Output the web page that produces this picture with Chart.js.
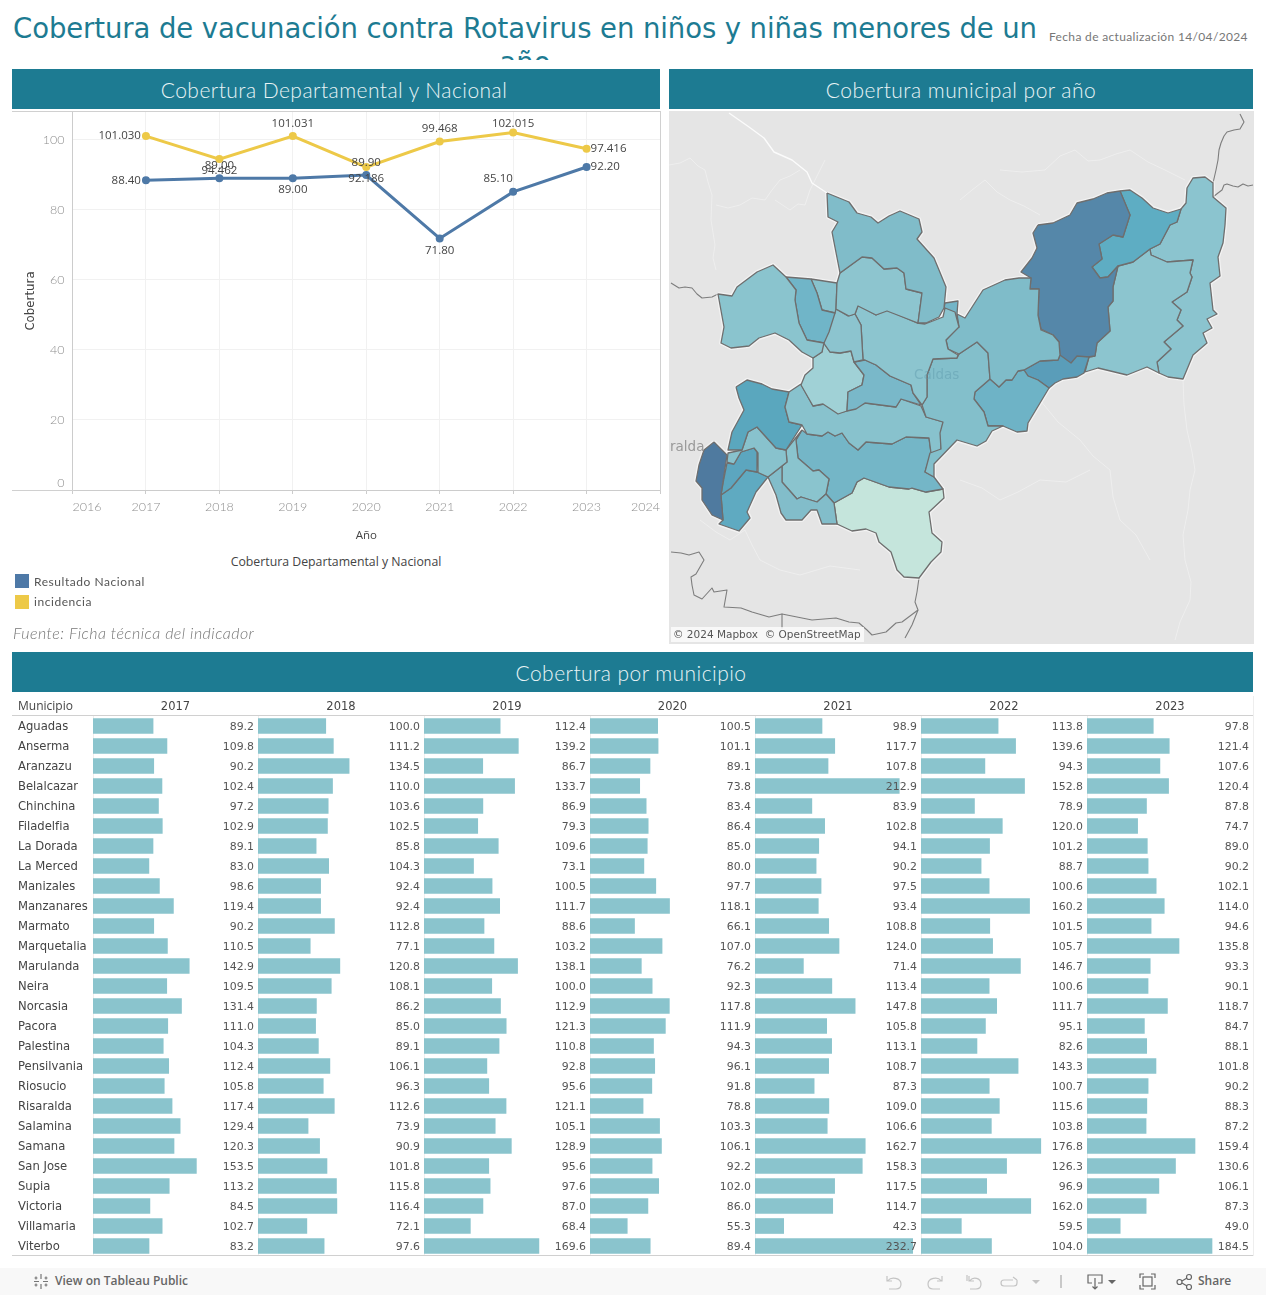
<!DOCTYPE html>
<html lang="es">
<head>
<meta charset="utf-8">
<title>Cobertura de vacunación contra Rotavirus</title>
<script src="https://cdn.jsdelivr.net/npm/chart.js@4"></script>
<style>
  html, body { margin: 0; padding: 0; background: #fff; }
  body { position: relative; width: 1266px; height: 1295px; overflow: hidden; font-family: "Open Sans", sans-serif; color: #555; }
  .abs { position: absolute; white-space: nowrap; }
  canvas { position: absolute; display: block; }
  .band { position: absolute; box-sizing: border-box; background: #1d7b92; color: #e9f4f6; height: 40px; text-align: center; font: 300 21px/41px Lato, sans-serif; letter-spacing: .45px; }
  .rule { position: absolute; background: #d0d0d0; }
  #title { left: 12px; top: 11px; width: 1026px; height: 49px; overflow: hidden; text-align: center; color: #1d7b92; font: 27.5px/34px "DejaVu Sans", sans-serif; letter-spacing: -.09px; }
  #updated { left: 1049px; top: 29px; font: 12px/16px Lato, sans-serif; letter-spacing: .34px; color: #777; }
  #source { left: 13px; top: 623px; font: italic 300 16px/20px Lato, sans-serif; letter-spacing: .45px; color: #777; }
  .legend-title { left: 12px; width: 648px; text-align: center; top: 554px; font: 12.3px/16px "Open Sans", sans-serif; color: #444; }
  .swatch { position: absolute; left: 15px; width: 14px; height: 14px; }
  .legend-item { left: 34px; font: 12px/16px Lato, sans-serif; letter-spacing: .55px; color: #555; }
  #map { left: 669px; top: 111px; width: 585px; height: 533px; background: #e5e5e5; overflow: hidden; }
  #mapcanvas { left: 0; top: 0; }
  .map-place { position: absolute; font: 13.5px/16px "DejaVu Sans", sans-serif; }
  #attribution { position: absolute; left: 2px; top: 516px; height: 15px; padding: 0 3px 0 2px; background: rgba(255,255,255,.72); font: 10.5px/15px "DejaVu Sans", sans-serif; color: #555; white-space: pre; }
  #municipio-head { left: 18px; top: 698px; font: 12px/16px "Open Sans", sans-serif; color: #444; }
  #toolbar { position: absolute; left: 0; top: 1268px; width: 1266px; height: 27px; background: #f8f8f8; }
  #toolbar .label { position: absolute; top: 5px; font: 600 12px/16px "Open Sans", sans-serif; color: #666; }
  #toolbar svg { position: absolute; left: 0; top: 0; }
</style>
</head>
<body>
<div id="title" class="abs">Cobertura de vacunación contra Rotavirus en niños y niñas menores de un<br>año</div>
<div id="updated" class="abs">Fecha de actualización 14/04/2024</div>

<div class="band" style="left:12px;top:69px;width:648px;padding-right:4px">Cobertura Departamental y Nacional</div>
<div class="band" style="left:669px;top:69px;width:584px">Cobertura municipal por año</div>
<div class="band" style="left:12px;top:652px;width:1241px;padding-right:3px">Cobertura por municipio</div>

<canvas id="lineChart" width="649" height="440" style="left:12px;top:110px"></canvas>
<div class="rule" style="left:12px;top:111px;width:649px;height:1px"></div>
<div class="rule" style="left:660px;top:111px;width:1px;height:380px"></div>
<div class="rule" style="left:12px;top:490px;width:62px;height:1px"></div>

<div class="abs legend-title">Cobertura Departamental y Nacional</div>
<div id="legend"></div>
<div id="source" class="abs">Fuente: Ficha técnica del indicador</div>

<div id="map" class="abs">
  <canvas id="mapcanvas" width="585" height="533"></canvas>
  <div class="map-place" style="left:1px;top:327px;color:#999">ralda</div>
  <div class="map-place" style="left:245px;top:255px;color:rgba(90,150,170,.42)">Caldas</div>
  <div id="attribution">© 2024 Mapbox  © OpenStreetMap</div>
</div>

<div id="municipio-head" class="abs">Municipio</div>
<div id="tables"></div>
<div class="rule" style="left:12px;top:715px;width:1241px;height:1px"></div>
<div class="rule" style="left:12px;top:1255px;width:1241px;height:1px"></div>
<div class="rule" style="left:1253px;top:696px;width:1px;height:560px;background:#eee"></div>

<div id="toolbar">
  <svg width="1266" height="27" fill="none" stroke-width="1.2">
    <g stroke="#777">
      <path d="M41 6v5M41 16v5M34 13.500h5M43 13.500h5M36 8.500v3M34.500 10h3M46 8.500v3M44.500 10h3M36 15.500v3M34.500 17h3M46 15.500v3M44.500 17h3"/>
    </g>
    <g stroke="#c4c4c4">
      <path d="M887 8v5h5M888 12.500c3-4 13-3 13 3.500 0 3-2 5-5 5h-7"/>
      <path d="M942 8v5h-5M941 12.500c-3-4-13-3-13 3.500 0 3 2 5 5 5h7"/>
      <path d="M967 7v6M969 8v5h5M970 12.500c3-4 11-3 11 3.500 0 3-2 5-5 5h-6"/>
      <path d="M1013 12h-9a3 3 0 0 0 0 6h10a3 3 0 0 0 3-3v-3M1013 9l4 3"/>
      <path d="M1061 7v13" stroke="#aaa"/>
    </g>
    <path d="M1032 12h8l-4 4z" fill="#c4c4c4"/>
    <g stroke="#666">
      <path d="M1092 15h-4V7h14v8h-4M1095 10v11M1092.500 18.500l2.500 2.500 2.500-2.500"/>
      <path d="M1140 10V6h4M1151 6h4v4M1155 17v4h-4M1144 21h-4v-4"/>
      <rect x="1143" y="9" width="9" height="9"/>
      <circle cx="1179.500" cy="14" r="2.500"/><circle cx="1189" cy="9" r="2.500"/><circle cx="1189" cy="19" r="2.500"/>
      <path d="M1182 13l5-3M1182 15l5 3"/>
    </g>
    <path d="M1108 12h8l-4 4z" fill="#666"/>
  </svg>
  <div class="label" style="left:55px">View on Tableau Public</div>
  <div class="label" style="left:1198px">Share</div>
</div>

<script>
// Line chart values
const years = [2017, 2018, 2019, 2020, 2021, 2022, 2023];
const seriesNames = ['Resultado Nacional', 'incidencia'];
const nacional = [88.40, 89.00, 89.00, 89.90, 71.80, 85.10, 92.20];
const incidencia = [101.030, 94.462, 101.031, 92.186, 99.468, 102.015, 97.416];
const nacionalSide = ['left', 'top', 'below', 'top', 'below', 'topleft', 'right'];
const incidenciaSide = ['left', 'below', 'top', 'below', 'top', 'toptight', 'right'];
const BLUE = '#4e79a7';
const YELLOW = '#edc948';

// Table values
const tableYears = ['2017', '2018', '2019', '2020', '2021', '2022', '2023'];
const municipios = ['Aguadas', 'Anserma', 'Aranzazu', 'Belalcazar', 'Chinchina', 'Filadelfia', 'La Dorada', 'La Merced', 'Manizales', 'Manzanares', 'Marmato', 'Marquetalia', 'Marulanda', 'Neira', 'Norcasia', 'Pacora', 'Palestina', 'Pensilvania', 'Riosucio', 'Risaralda', 'Salamina', 'Samana', 'San Jose', 'Supia', 'Victoria', 'Villamaria', 'Viterbo'];
const y2017 = [89.2, 109.8, 90.2, 102.4, 97.2, 102.9, 89.1, 83.0, 98.6, 119.4, 90.2, 110.5, 142.9, 109.5, 131.4, 111.0, 104.3, 112.4, 105.8, 117.4, 129.4, 120.3, 153.5, 113.2, 84.5, 102.7, 83.2];
const y2018 = [100.0, 111.2, 134.5, 110.0, 103.6, 102.5, 85.8, 104.3, 92.4, 92.4, 112.8, 77.1, 120.8, 108.1, 86.2, 85.0, 89.1, 106.1, 96.3, 112.6, 73.9, 90.9, 101.8, 115.8, 116.4, 72.1, 97.6];
const y2019 = [112.4, 139.2, 86.7, 133.7, 86.9, 79.3, 109.6, 73.1, 100.5, 111.7, 88.6, 103.2, 138.1, 100.0, 112.9, 121.3, 110.8, 92.8, 95.6, 121.1, 105.1, 128.9, 95.6, 97.6, 87.0, 68.4, 169.6];
const y2020 = [100.5, 101.1, 89.1, 73.8, 83.4, 86.4, 85.0, 80.0, 97.7, 118.1, 66.1, 107.0, 76.2, 92.3, 117.8, 111.9, 94.3, 96.1, 91.8, 78.8, 103.3, 106.1, 92.2, 102.0, 86.0, 55.3, 89.4];
const y2021 = [98.9, 117.7, 107.8, 212.9, 83.9, 102.8, 94.1, 90.2, 97.5, 93.4, 108.8, 124.0, 71.4, 113.4, 147.8, 105.8, 113.1, 108.7, 87.3, 109.0, 106.6, 162.7, 158.3, 117.5, 114.7, 42.3, 232.7];
const y2022 = [113.8, 139.6, 94.3, 152.8, 78.9, 120.0, 101.2, 88.7, 100.6, 160.2, 101.5, 105.7, 146.7, 100.6, 111.7, 95.1, 82.6, 143.3, 100.7, 115.6, 103.8, 176.8, 126.3, 96.9, 162.0, 59.5, 104.0];
const y2023 = [97.8, 121.4, 107.6, 120.4, 87.8, 74.7, 89.0, 90.2, 102.1, 114.0, 94.6, 135.8, 93.3, 90.1, 118.7, 84.7, 88.1, 101.8, 90.2, 88.3, 87.2, 159.4, 130.6, 106.1, 87.3, 49.0, 184.5];
const tableValues = [y2017, y2018, y2019, y2020, y2021, y2022, y2023];
const BAR = '#8ac4cd';

// Map outlines, in map units
const zoneNorth = [[827,193],[849,202],[857,213],[871,217],[878,223],[889,216],[900,211],[919,219],[922,232],[917,239],[934,258],[939,270],[946,287],[944,308],[939,317],[926,323],[918,323],[922,293],[906,289],[904,273],[897,268],[884,269],[872,258],[862,257],[840,273],[832,232],[838,222],[828,217]];
const zoneNorth2 = [[840,273],[862,257],[872,258],[884,269],[897,268],[904,273],[906,289],[922,293],[918,323],[887,311],[876,315],[858,306],[855,314],[849,316],[836,309],[837,283]];
const zoneWest = [[718,294],[732,296],[737,287],[757,272],[773,265],[786,277],[796,290],[795,300],[799,323],[807,340],[824,343],[822,352],[813,358],[802,352],[789,340],[775,333],[759,338],[749,346],[731,348],[721,343],[724,327]];
const zoneSliver = [[786,277],[811,279],[817,293],[822,310],[835,313],[829,332],[824,343],[807,340],[799,323],[795,300],[796,290]];
const zoneSmall = [[811,279],[837,283],[836,309],[835,313],[822,310],[817,293]];
const zoneMid = [[836,309],[848,316],[855,314],[861,325],[863,360],[854,362],[851,351],[840,353],[830,352],[823,342],[829,328],[834,313]];
const zoneCentre = [[858,305],[876,315],[887,310],[917,323],[925,324],[943,317],[945,308],[955,312],[959,327],[946,340],[948,349],[958,355],[957,358],[933,359],[927,375],[927,397],[922,405],[913,393],[911,385],[890,376],[876,365],[865,360],[863,360],[861,325],[855,314]];
const zoneCentreDark = [[854,362],[865,360],[876,365],[890,376],[911,385],[913,393],[921,405],[901,399],[896,407],[865,403],[856,409],[847,411],[848,392],[862,385],[864,375]];
const zonePale = [[823,342],[830,352],[840,353],[851,351],[854,362],[864,375],[862,385],[848,392],[847,411],[838,414],[823,404],[813,406],[801,385],[805,375],[813,368],[813,358],[822,352]];
const zoneTiny = [[945,303],[958,301],[957,314],[959,327],[955,313],[944,308]];
const zoneEastMid = [[957,314],[965,318],[983,290],[1005,280],[1019,278],[1031,278],[1030,289],[1039,289],[1038,315],[1041,330],[1053,335],[1059,342],[1060,355],[1058,360],[1040,361],[1024,370],[1018,371],[1012,380],[1006,380],[999,387],[990,379],[988,353],[977,342],[959,354],[948,349],[946,340],[958,327]];
const zoneSouthMid = [[959,354],[977,342],[988,353],[990,379],[975,392],[974,399],[984,412],[988,426],[1003,426],[992,431],[986,441],[977,446],[957,440],[934,464],[934,477],[925,472],[930,453],[941,449],[940,433],[943,422],[926,417],[922,405],[927,397],[927,375],[933,359],[957,358]];
const zoneSouthDark = [[990,379],[999,387],[1006,380],[1012,380],[1018,371],[1024,370],[1028,376],[1038,380],[1049,388],[1037,408],[1028,423],[1027,431],[1017,432],[1003,426],[988,426],[984,412],[974,399],[975,392]];
const zoneStrip = [[1024,370],[1040,361],[1058,360],[1060,355],[1071,363],[1077,356],[1089,357],[1084,373],[1077,377],[1063,379],[1055,383],[1049,388],[1038,380],[1028,376]];
const zoneDarkest = [[1038,225],[1053,223],[1070,215],[1077,203],[1093,199],[1107,193],[1120,191],[1130,215],[1123,237],[1113,235],[1099,244],[1102,259],[1092,267],[1100,278],[1108,277],[1118,266],[1113,287],[1113,301],[1108,307],[1110,331],[1097,343],[1095,356],[1088,357],[1078,357],[1071,364],[1060,357],[1059,342],[1053,335],[1041,329],[1038,315],[1039,289],[1030,289],[1031,278],[1021,272],[1032,258],[1037,248],[1033,233]];
const zoneNorthEast = [[1120,191],[1130,190],[1142,198],[1153,208],[1168,213],[1181,209],[1177,222],[1170,225],[1160,244],[1150,249],[1133,262],[1118,266],[1108,277],[1100,278],[1092,267],[1102,259],[1099,244],[1113,235],[1123,237],[1130,215]];
const zoneEast = [[1118,266],[1133,262],[1150,249],[1151,255],[1167,262],[1193,260],[1190,273],[1192,277],[1187,292],[1172,302],[1181,310],[1177,320],[1183,326],[1164,342],[1171,349],[1157,362],[1159,373],[1147,367],[1127,375],[1098,368],[1085,372],[1089,357],[1095,356],[1097,343],[1110,331],[1108,307],[1113,301],[1113,287]];
const zoneFarEast = [[1150,249],[1160,244],[1170,225],[1177,222],[1181,209],[1186,203],[1187,188],[1193,178],[1205,177],[1213,183],[1213,197],[1226,208],[1225,225],[1223,243],[1218,257],[1220,276],[1210,283],[1213,310],[1217,314],[1207,319],[1212,328],[1203,333],[1207,343],[1193,355],[1183,379],[1168,377],[1159,373],[1157,362],[1171,349],[1164,342],[1183,326],[1177,320],[1181,310],[1172,302],[1187,292],[1192,277],[1190,273],[1193,260],[1167,262],[1151,255]];
const zoneSouthBelt = [[801,384],[813,406],[824,404],[838,413],[846,411],[866,403],[896,407],[901,399],[921,406],[926,417],[943,422],[941,435],[941,450],[931,453],[929,438],[906,437],[892,444],[879,443],[866,442],[858,450],[849,443],[842,433],[835,436],[828,432],[822,436],[807,434],[802,425],[789,422],[785,407],[789,392]];
const zoneWestBlock = [[736,387],[747,380],[762,384],[772,389],[789,392],[785,407],[789,422],[802,425],[786,450],[776,448],[757,427],[748,432],[742,450],[728,450],[732,432],[744,410],[739,398]];
const zoneWestLight = [[757,427],[776,448],[786,450],[787,462],[768,477],[757,472],[758,453],[754,448],[741,452],[734,464],[727,462],[728,453],[742,450],[748,432]];
const zoneNavy = [[714,442],[727,455],[721,495],[723,520],[712,515],[702,500],[702,488],[696,481],[699,465],[704,450]];
const zoneWestMid = [[734,464],[741,452],[754,448],[758,453],[757,472],[746,470],[731,488],[721,495],[724,478],[727,463]];
const zoneSouthWest = [[721,495],[731,488],[746,470],[757,472],[768,477],[756,492],[747,512],[750,518],[739,531],[719,524],[723,520]];
const zoneSouthA = [[768,477],[782,466],[782,482],[797,499],[801,497],[817,502],[826,494],[834,503],[837,524],[822,524],[817,510],[811,510],[802,520],[786,520],[781,513],[776,495]];
const zoneSouthB = [[802,430],[796,440],[798,458],[813,471],[819,470],[829,479],[826,494],[817,502],[801,497],[797,499],[782,482],[782,466],[787,462],[786,450]];
const zoneSouthC = [[802,430],[807,434],[822,436],[828,432],[835,436],[842,433],[849,443],[858,450],[866,442],[879,443],[892,444],[906,437],[929,438],[931,453],[925,472],[934,477],[943,489],[926,492],[912,488],[909,489],[889,487],[864,478],[857,482],[852,493],[834,503],[826,494],[829,479],[819,470],[813,471],[798,458],[796,440]];
const zoneSouthPale = [[834,503],[852,493],[857,482],[864,478],[889,487],[909,489],[912,488],[926,492],[943,489],[944,498],[929,512],[932,533],[942,542],[941,552],[931,562],[919,578],[904,577],[897,570],[891,552],[879,542],[876,533],[866,529],[852,531],[837,524]];
const mapZones = [zoneNorth, zoneNorth2, zoneWest, zoneSliver, zoneSmall, zoneMid, zoneCentre, zoneCentreDark, zonePale, zoneTiny, zoneEastMid, zoneSouthMid, zoneSouthDark, zoneStrip, zoneDarkest, zoneNorthEast, zoneEast, zoneFarEast, zoneSouthBelt, zoneWestBlock, zoneWestLight, zoneNavy, zoneWestMid, zoneSouthWest, zoneSouthA, zoneSouthB, zoneSouthC, zoneSouthPale];
const zoneColors = ['#80bcc9', '#8dc5cf', '#8ac4ce', '#70b5c8', '#88c2cd', '#8cc4cf', '#8cc5cf', '#79b8c9', '#a0d1d6', '#74b5c7', '#7fbcc9', '#83bfcb', '#6eb3c6', '#5a9db9', '#5587a9', '#5eadc3', '#8cc5cf', '#8bc4cf', '#88c2cd', '#5aa7be', '#88c2cd', '#4f7a9f', '#5ca6bf', '#5faac1', '#82bdca', '#8ac4ce', '#74b6c7', '#c5e5dc'];

// Borders and rivers of the base map
const borderNorthEast = [[1213,183],[1216,170],[1218,160],[1219,150],[1221,143],[1224,136],[1227,132],[1234,130],[1240,129],[1244,122],[1240,114]];
const borderEastBranch = [[1213,197],[1218,193],[1222,190],[1224,185],[1227,184],[1233,186],[1238,187],[1243,184],[1248,186],[1253,185]];
const borderWest = [[671,283],[679,288],[685,287],[692,288],[697,294],[702,298],[712,297],[718,294]];
const borderSouth = [[919,578],[917,592],[915,602],[918,610],[902,622],[896,623],[886,632],[872,635],[867,630],[859,623],[849,622],[836,618],[812,620],[782,614],[769,617],[752,612],[741,608],[724,607],[727,590],[714,592],[712,588],[702,599],[694,595],[692,585],[691,577],[696,574],[704,560],[699,552],[689,555],[681,553],[671,552]];
const borderSouthA = [[918,610],[912,625],[905,638]];
const borderSouthB = [[782,614],[782,628]];
const mapBorders = [borderNorthEast, borderEastBranch, borderWest, borderSouth, borderSouthA, borderSouthB];
const riverNorth = [[729,113],[749,127],[764,138],[774,152],[792,160],[807,172],[812,183],[827,193]];
const riverA = [[669,165],[680,163],[690,158],[698,166],[705,170],[708,182],[712,195],[711,220],[715,245],[713,258],[716,270]];
const riverB = [[716,205],[728,208],[740,205],[752,198],[765,200],[772,190],[780,180],[790,176],[800,170]];
const riverC = [[775,200],[790,210],[798,204],[805,205],[810,190],[817,176],[825,160]];
const riverD = [[1000,170],[1022,172],[1045,170],[1060,156],[1075,150],[1088,161],[1100,160],[1116,154],[1130,150],[1148,162],[1165,170],[1185,180]];
const riverE = [[960,200],[972,190],[985,180],[997,192],[1010,200],[1024,206],[1040,215]];
const riverSE = [[1183,380],[1184,405],[1187,430],[1192,452],[1195,470],[1190,490],[1188,510],[1183,535],[1185,560],[1191,582],[1190,600],[1180,622],[1175,640]];
const riverS = [[1040,400],[1058,422],[1080,440],[1093,456],[1110,470],[1113,497],[1120,520],[1136,535],[1150,560]];
const riverS2 = [[960,480],[982,488],[1000,500],[1018,492],[1040,480],[1066,482],[1090,470]];
const riverSW = [[700,520],[716,532],[730,540],[745,530],[752,545],[760,560],[780,570],[800,575],[830,566],[860,570]];
const mapRivers = [riverNorth, riverA, riverB, riverC, riverD, riverE, riverSE, riverS, riverS2, riverSW];

Chart.defaults.animation = false;
Chart.defaults.responsive = false;
Chart.defaults.plugins.legend.display = false;
Chart.defaults.plugins.tooltip.enabled = false;

// Line chart
const pointLabels = {
  id: 'pointLabels',
  afterDatasetsDraw(chart) {
    const { ctx } = chart;
    ctx.save();
    ctx.font = '11.5px "Open Sans", sans-serif';
    ctx.fillStyle = '#444';
    ctx.textBaseline = 'middle';
    chart.data.datasets.forEach((ds, d) => {
      chart.getDatasetMeta(d).data.forEach((pt, i) => {
        const side = ds.sides[i];
        const text = ds.data[i].y.toFixed(ds.decimals);
        if (side === 'left') { ctx.textAlign = 'right'; ctx.fillText(text, pt.x - 5, pt.y); }
        else if (side === 'right') { ctx.textAlign = 'left'; ctx.fillText(text, pt.x + 4, pt.y); }
        else if (side === 'top') { ctx.textAlign = 'center'; ctx.fillText(text, pt.x, pt.y - 12.5); }
        else if (side === 'toptight') { ctx.textAlign = 'center'; ctx.fillText(text, pt.x, pt.y - 9); }
        else if (side === 'below') { ctx.textAlign = 'center'; ctx.fillText(text, pt.x, pt.y + 12); }
        else { ctx.textAlign = 'center'; ctx.fillText(text, pt.x - 15, pt.y - 13); }
      });
    });
    ctx.restore();
  }
};

const byYear = values => values.map((v, i) => ({ x: years[i], y: v }));

new Chart(document.getElementById('lineChart'), {
  type: 'line',
  plugins: [pointLabels],
  data: {
    datasets: [
      { label: seriesNames[1], data: byYear(incidencia), sides: incidenciaSide, decimals: 3, borderColor: YELLOW, backgroundColor: YELLOW, borderWidth: 3, pointRadius: 2.5, tension: 0 },
      { label: seriesNames[0], data: byYear(nacional), sides: nacionalSide, decimals: 2, borderColor: BLUE, backgroundColor: BLUE, borderWidth: 3, pointRadius: 2.5, tension: 0 }
    ]
  },
  options: {
    layout: { autoPadding: false, padding: { top: 2, left: 12, right: 1 } },
    scales: {
      x: {
        type: 'linear', min: 2016, max: 2024,
        grid: { color: '#f1f1f1', tickColor: '#ccc', tickLength: 4 },
        border: { color: '#ccc' },
        ticks: { stepSize: 1, align: 'inner', maxRotation: 0, autoSkip: false, padding: 5, color: '#8f8f8f', font: { family: 'Lato', size: 12.5, weight: 300 }, callback: v => String(v) },
        title: { display: true, text: 'Año', color: '#444', font: { family: '"Open Sans"', size: 11.5 }, padding: { top: 12, bottom: 7 } },
        afterFit: s => { s.height = 60; s.paddingLeft = 0; s.paddingRight = 0; }
      },
      y: {
        min: 0, max: 107.9,
        afterBuildTicks: s => { s.ticks = s.ticks.filter(t => t.value % 20 === 0); },
        grid: { color: '#f1f1f1', drawTicks: false },
        border: { color: '#ccc' },
        ticks: { stepSize: 20, padding: 8, color: '#8f8f8f', font: { family: 'Lato', size: 12.5, weight: 300 }, callback: v => (v === 0 ? ['0', ''] : String(v)) },
        title: { display: true, text: 'Cobertura', color: '#444', font: { family: '"DejaVu Sans"', size: 11.8 }, padding: 0 },
        afterFit: s => { s.width = 48.5; s.paddingTop = 0; s.paddingBottom = 0; }
      }
    }
  }
});

// Legend
const legendEl = document.getElementById('legend');
[BLUE, YELLOW].forEach((color, i) => {
  legendEl.insertAdjacentHTML('beforeend',
    `<div class="swatch" style="top:${574 + i * 20.5}px;background:${color}"></div><div class="abs legend-item" style="top:${574 + i * 20}px">${seriesNames[i]}</div>`);
});

// Map. Chart.js paints the first dataset last, so zones go first to stay on top
const toPoints = ring => ring.map(p => ({ x: p[0], y: p[1] }));
const closed = ring => toPoints(ring.concat([ring[0]]));
const mapDatasets = [];
mapZones.forEach((r, i) => mapDatasets.push({ data: closed(r), borderColor: '#6e6e6e', borderWidth: 1.3, backgroundColor: zoneColors[i], fill: 'shape' }));
mapZones.forEach(r => mapDatasets.push({ data: closed(r), borderColor: 'rgba(255,255,255,.5)', borderWidth: 4, fill: false }));
mapBorders.forEach(r => mapDatasets.push({ data: toPoints(r), borderColor: '#7d7d7d', borderWidth: 1.1, fill: false }));
mapRivers.forEach((r, i) => mapDatasets.push({ data: toPoints(r), borderColor: i === 0 ? 'rgba(255,255,255,.85)' : 'rgba(255,255,255,.35)', borderWidth: i === 0 ? 1.4 : 1, fill: false }));

new Chart(document.getElementById('mapcanvas'), {
  type: 'scatter',
  data: { datasets: mapDatasets.map(d => ({ ...d, showLine: true, pointRadius: 0, tension: 0, borderJoinStyle: 'round' })) },
  options: {
    layout: { autoPadding: false, padding: 0 },
    scales: {
      x: { type: 'linear', min: 669, max: 1254, display: false },
      y: { type: 'linear', min: 111, max: 644, reverse: true, display: false }
    }
  }
});

// Table: one bar chart for each year
const tablesEl = document.getElementById('tables');
const colLefts = [93, 258, 424, 590, 755, 921, 1087, 1253];
const valueLabels = {
  id: 'valueLabels',
  afterDatasetsDraw(chart) {
    const { ctx, chartArea } = chart;
    ctx.save();
    ctx.font = '10.9px "DejaVu Sans", sans-serif';
    ctx.fillStyle = '#555';
    ctx.textAlign = 'right';
    ctx.textBaseline = 'middle';
    chart.getDatasetMeta(0).data.forEach((bar, i) => {
      ctx.fillText(chart.data.datasets[0].data[i].toFixed(1), chartArea.right - 4, bar.y + 1);
    });
    ctx.restore();
  }
};

tableYears.forEach((year, c) => {
  const first = c === 0;
  const left = first ? 12 : colLefts[c];
  const canvas = document.createElement('canvas');
  canvas.width = colLefts[c + 1] - left;
  canvas.height = 560;
  canvas.style.left = left + 'px';
  canvas.style.top = '696px';
  tablesEl.appendChild(canvas);

  new Chart(canvas, {
    type: 'bar',
    plugins: [valueLabels],
    data: {
      labels: municipios,
      datasets: [{ data: tableValues[c], backgroundColor: BAR, barThickness: 15 }]
    },
    options: {
      indexAxis: 'y',
      layout: { padding: { left: first ? 6 : 0 } },
      scales: {
        x: {
          position: 'top', min: 0, max: 245,
          grid: { display: false }, border: { display: false },
          ticks: { display: false },
          title: { display: true, text: year, color: '#444', font: { family: '"DejaVu Sans"', size: 11.5 }, padding: { top: 4, bottom: 0 } },
          afterFit: s => { s.height = 20; s.paddingLeft = 0; s.paddingRight = 0; }
        },
        y: {
          grid: { display: false },
          border: { color: '#eee' },
          ticks: { display: first, autoSkip: false, crossAlign: 'far', padding: 0, labelOffset: 1, color: '#444', font: { family: '"DejaVu Sans"', size: 11.6 } },
          afterFit: s => { s.width = first ? 75 : 0; s.paddingTop = 0; s.paddingBottom = 0; }
        }
      }
    }
  });
});
</script>
</body>
</html>
